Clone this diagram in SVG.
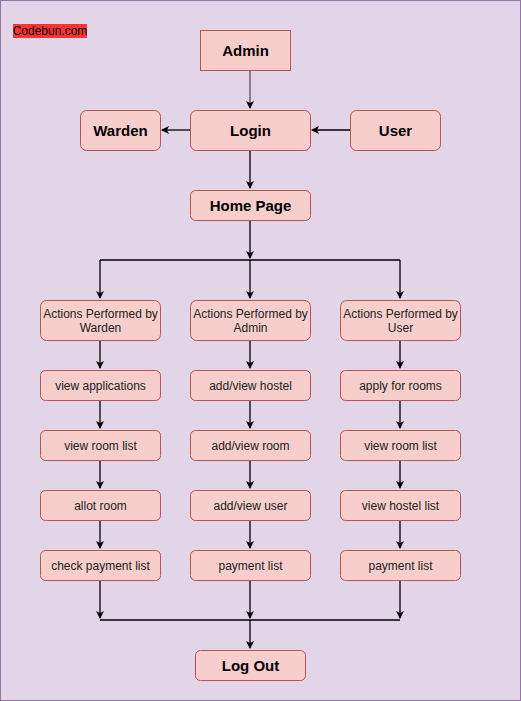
<svg xmlns="http://www.w3.org/2000/svg" width="521" height="701" viewBox="0 0 521 701">
<defs>
<marker id="arr" markerWidth="10" markerHeight="10" refX="7" refY="4" orient="auto" markerUnits="userSpaceOnUse">
<path d="M0,0 L8,4 L0,8 L2,4 Z" fill="#000"/>
</marker>
<style>
.n{fill:#f8cecc;stroke:#b85450;stroke-width:1}
.t{font-family:"Liberation Sans",Arial,sans-serif;font-size:12px;fill:#222;text-anchor:middle;dominant-baseline:central}
.b{font-family:"Liberation Sans",Arial,sans-serif;font-size:15px;font-weight:bold;fill:#000;text-anchor:middle;dominant-baseline:central}
.e{fill:none;stroke:#000;stroke-width:1.3}
</style>
</defs>
<rect x="0.5" y="0.5" width="520" height="700" fill="#e1d5e7" stroke="#9673a6" stroke-width="1"/>
<g id="watermark">
<rect x="13" y="24" width="74" height="14" fill="#ff3333"/>
<text x="50" y="31" class="t" style="fill:#000">Codebun.com</text>
</g>
<g id="edges">
<path class="e" d="M250,70 V108" marker-end="url(#arr)" style="stroke:#555"/>
<path class="e" d="M190,130 H162" marker-end="url(#arr)"/>
<path class="e" d="M350,130 H312" marker-end="url(#arr)"/>
<path class="e" d="M250,150 V188" marker-end="url(#arr)"/>
<path class="e" d="M250,220 V258" marker-end="url(#arr)"/>
<path class="e" d="M100,260 H400"/>
<path class="e" d="M100,260 V298" marker-end="url(#arr)"/>
<path class="e" d="M250,260 V298" marker-end="url(#arr)"/>
<path class="e" d="M400,260 V298" marker-end="url(#arr)"/>
<path class="e" d="M100,340 V368" marker-end="url(#arr)"/>
<path class="e" d="M250,340 V368" marker-end="url(#arr)"/>
<path class="e" d="M400,340 V368" marker-end="url(#arr)"/>
<path class="e" d="M100,400 V428" marker-end="url(#arr)"/>
<path class="e" d="M250,400 V428" marker-end="url(#arr)"/>
<path class="e" d="M400,400 V428" marker-end="url(#arr)"/>
<path class="e" d="M100,460 V488" marker-end="url(#arr)"/>
<path class="e" d="M250,460 V488" marker-end="url(#arr)"/>
<path class="e" d="M400,460 V488" marker-end="url(#arr)"/>
<path class="e" d="M100,520 V548" marker-end="url(#arr)"/>
<path class="e" d="M250,520 V548" marker-end="url(#arr)"/>
<path class="e" d="M400,520 V548" marker-end="url(#arr)"/>
<path class="e" d="M100,580 V618" marker-end="url(#arr)"/>
<path class="e" d="M250,580 V618" marker-end="url(#arr)"/>
<path class="e" d="M400,580 V618" marker-end="url(#arr)"/>
<path class="e" d="M100,620 H400"/>
<path class="e" d="M250,620 V648" marker-end="url(#arr)"/>
</g>
<g id="admin"><rect class="n" x="200.5" y="30.5" width="90" height="40"/><text class="b" x="245.5" y="50.5">Admin</text></g>
<g id="warden"><rect class="n" x="80.5" y="110.5" width="80" height="40" rx="6"/><text class="b" x="120.5" y="130.5">Warden</text></g>
<g id="login"><rect class="n" x="190.5" y="110.5" width="120" height="40" rx="6"/><text class="b" x="250.5" y="130.5">Login</text></g>
<g id="user"><rect class="n" x="350.5" y="110.5" width="90" height="40" rx="6"/><text class="b" x="395.5" y="130.5">User</text></g>
<g id="home"><rect class="n" x="190.5" y="190.5" width="120" height="30" rx="5"/><text class="b" x="250.5" y="205.5">Home Page</text></g>
<g id="act-warden"><rect class="n" x="40.5" y="300.5" width="120" height="40" rx="6"/><text class="t" x="100.5" y="313.5">Actions Performed by</text><text class="t" x="100.5" y="327.5">Warden</text></g>
<g id="act-admin"><rect class="n" x="190.5" y="300.5" width="120" height="40" rx="6"/><text class="t" x="250.5" y="313.5">Actions Performed by</text><text class="t" x="250.5" y="327.5">Admin</text></g>
<g id="act-user"><rect class="n" x="340.5" y="300.5" width="120" height="40" rx="6"/><text class="t" x="400.5" y="313.5">Actions Performed by</text><text class="t" x="400.5" y="327.5">User</text></g>
<g id="w1"><rect class="n" x="40.5" y="370.5" width="120" height="30" rx="5"/><text class="t" x="100.5" y="385.5">view applications</text></g>
<g id="a1"><rect class="n" x="190.5" y="370.5" width="120" height="30" rx="5"/><text class="t" x="250.5" y="385.5">add/view hostel</text></g>
<g id="u1"><rect class="n" x="340.5" y="370.5" width="120" height="30" rx="5"/><text class="t" x="400.5" y="385.5">apply for rooms</text></g>
<g id="w2"><rect class="n" x="40.5" y="430.5" width="120" height="30" rx="5"/><text class="t" x="100.5" y="445.5">view room list</text></g>
<g id="a2"><rect class="n" x="190.5" y="430.5" width="120" height="30" rx="5"/><text class="t" x="250.5" y="445.5">add/view room</text></g>
<g id="u2"><rect class="n" x="340.5" y="430.5" width="120" height="30" rx="5"/><text class="t" x="400.5" y="445.5">view room list</text></g>
<g id="w3"><rect class="n" x="40.5" y="490.5" width="120" height="30" rx="5"/><text class="t" x="100.5" y="505.5">allot room</text></g>
<g id="a3"><rect class="n" x="190.5" y="490.5" width="120" height="30" rx="5"/><text class="t" x="250.5" y="505.5">add/view user</text></g>
<g id="u3"><rect class="n" x="340.5" y="490.5" width="120" height="30" rx="5"/><text class="t" x="400.5" y="505.5">view hostel list</text></g>
<g id="w4"><rect class="n" x="40.5" y="550.5" width="120" height="30" rx="5"/><text class="t" x="100.5" y="565.5">check payment list</text></g>
<g id="a4"><rect class="n" x="190.5" y="550.5" width="120" height="30" rx="5"/><text class="t" x="250.5" y="565.5">payment list</text></g>
<g id="u4"><rect class="n" x="340.5" y="550.5" width="120" height="30" rx="5"/><text class="t" x="400.5" y="565.5">payment list</text></g>
<g id="logout"><rect class="n" x="195.5" y="650.5" width="110" height="30" rx="5"/><text class="b" x="250.5" y="665.5">Log Out</text></g>
</svg>
